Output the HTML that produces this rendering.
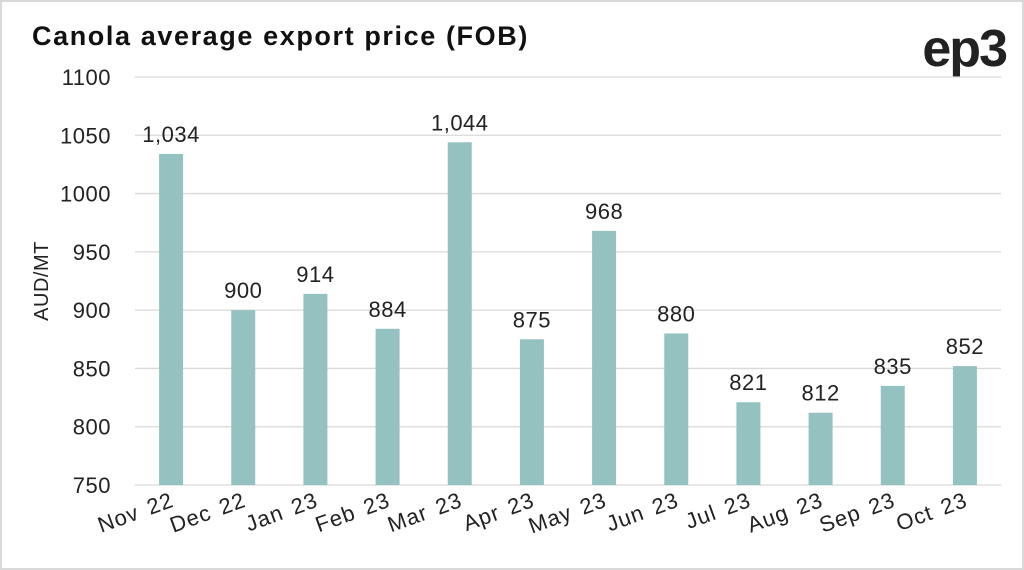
<!DOCTYPE html>
<html><head><meta charset="utf-8"><style>
html,body{margin:0;padding:0;background:#fff}
svg{display:block;font-family:"Liberation Sans",sans-serif}
</style></head><body>
<svg width="1024" height="570">
<rect x="1" y="1" width="1022" height="568" fill="#fff" stroke="#d9d9d9" stroke-width="2"/>
<text x="32" y="45" font-size="27" font-weight="bold" fill="#111" letter-spacing="1.6">Canola average export price (FOB)</text>
<text x="1006" y="66" font-size="52" font-weight="bold" fill="#222" text-anchor="end" letter-spacing="-2">ep3</text>
<text transform="translate(48,281) rotate(-90)" font-size="20" text-anchor="middle" fill="#222" letter-spacing="0.5">AUD/MT</text>
<g id="grid"></g><g id="bars"></g><g id="labels"></g>
</svg>
<script>
const categories=["Nov 22","Dec 22","Jan 23","Feb 23","Mar 23","Apr 23","May 23","Jun 23","Jul 23","Aug 23","Sep 23","Oct 23"];
const values=[1034,900,914,884,1044,875,968,880,821,812,835,852];
const valueLabels=["1,034","900","914","884","1,044","875","968","880","821","812","835","852"];
const yTicks=[750,800,850,900,950,1000,1050,1100];
const NS="http://www.w3.org/2000/svg";
const x0=135,x1=1001,yMin=750,yMax=1100,yBot=485,yTop=77;
const band=(x1-x0)/categories.length;
function y(v){return yBot-(v-yMin)/(yMax-yMin)*(yBot-yTop);}
function xc(i){return x0+band*(i+0.5);}
function mk(tag,attrs,parent,txt){const e=document.createElementNS(NS,tag);for(const k in attrs)e.setAttribute(k,attrs[k]);if(txt!=null)e.textContent=txt;parent.appendChild(e);return e;}
const g=document.getElementById('grid'),b=document.getElementById('bars'),l=document.getElementById('labels');
yTicks.forEach(t=>{
 const ln=mk('line',{x1:x0,x2:x1,y1:y(t),y2:y(t),stroke:'#d9d9d9','stroke-width':1.3},g);
 
 
 const tx=mk('text',{x:111,y:y(t)+8,'font-size':22,'text-anchor':'end',fill:'#222','letter-spacing':0.5},g,String(t));
 
 
});
values.forEach((v,i)=>{
 const r=mk('rect',{x:xc(i)-12,y:y(v),width:24,height:yBot-y(v),fill:'#93c2c0'},b);
 
 
 const vt=mk('text',{x:xc(i),y:y(v)-12,'font-size':22,'text-anchor':'middle',fill:'#222','letter-spacing':0.5},l,valueLabels[i]);
 
 
 const ct=mk('text',{transform:`translate(${xc(i)+4},${506}) rotate(-20)`,'font-size':22,'text-anchor':'end',fill:'#222','letter-spacing':1,'word-spacing':3},l,categories[i]);
 
 
});
</script>
</body></html>
